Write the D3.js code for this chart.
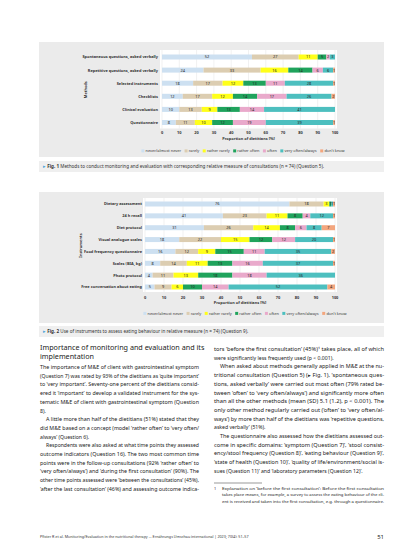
<!DOCTYPE html>
<html><head><meta charset="utf-8">
<script src="https://cdn.jsdelivr.net/npm/d3@7"></script>
<style>
body{margin:0;background:#fff}
svg{display:block}
text{font-family:"Noto Sans","Open Sans",sans-serif}
</style>
</head><body>
<svg id="page" width="413" height="551"></svg>
<script>
// ---------- DATA ----------
const levels = ["never/almost never","rarely","rather rarely","rather often","often","very often/always","don't know"];
const levelColors = ["#cde0f1","#dccdb1","#ffff1a","#1fa35c","#e9a9cb","#4dbfbf","#f3a67e"];
const ticks = [0,10,20,30,40,50,60,70,80,90,100];

const fig1Rows = ["Spontaneous questions, asked verbally","Repetitive questions, asked verbally","Selected instruments","Checklists","Clinical evaluation","Questionnaire"];
const fig1Values = [
  [52,27,11,5,2,3,0],
  [24,33,16,14,6,6,1],
  [18,17,12,13,11,28,1],
  [12,17,12,14,17,26,2],
  [10,13,9,13,14,41,0],
  [8,11,10,12,19,39,1]
];

const fig2Rows = ["Dietary assessment","24 h recall","Diet protocol","Visual analogue scales","Food frequency questionnaire","Scales (BIA, kg)","Photo protocol","Free conversation about eating"];
const fig2Values = [
  [76,18,3,1,0,1,1],
  [41,23,11,8,4,12,1],
  [31,26,14,8,6,8,7],
  [18,22,15,12,12,20,1],
  [16,12,9,15,11,35,2],
  [8,14,11,13,16,37,1],
  [4,11,13,18,18,36,0],
  [5,9,6,10,14,52,4]
];

// ---------- PAGE ----------
const svg = d3.select("#page");

function drawFigure(cfg){
  const g = svg.append("g");
  g.append("rect").attr("x",39).attr("y",cfg.panelTop).attr("width",345).attr("height",cfg.panelH).attr("fill","#ebebeb");
  const x = d3.scaleLinear().domain([0,100]).range(cfg.xRange);
  const y = d3.scalePoint().domain(cfg.rows).range(cfg.yRange);
  // plot area
  g.append("rect").attr("x",x(0)-2).attr("y",cfg.plotTop).attr("width",x(100)-x(0)+4).attr("height",cfg.plotBottom-cfg.plotTop).attr("fill","#fff");
  g.selectAll("line.grid").data(ticks).join("line").attr("class","grid")
    .attr("x1",d=>x(d)).attr("x2",d=>x(d)).attr("y1",cfg.plotTop).attr("y2",cfg.plotBottom)
    .attr("stroke","#dcdcdc").attr("stroke-width",0.4);
  const bh = 5;
  cfg.rows.forEach((r,i)=>{
    const vals = cfg.values[i];
    let cum = 0;
    const segs = vals.map((v,k)=>{const s={v,k,x0:cum,x1:cum+v}; cum+=v; return s;});
    const row = g.append("g");
    row.selectAll("rect").data(segs.filter(s=>s.v>0)).join("rect")
      .attr("x",s=>x(s.x0)).attr("width",s=>x(s.x1)-x(s.x0))
      .attr("y",y(r)-bh/2).attr("height",bh).attr("fill",s=>levelColors[s.k]);
    row.selectAll("text").data(segs.filter(s=>s.v>0)).join("text")
      .attr("x",s=>x((s.x0+s.x1)/2)).attr("y",y(r)+1.4)
      .attr("text-anchor","middle").attr("font-size",3.9).attr("fill","#222")
      .text(s=>s.v);
    g.append("text").attr("x",cfg.labelX).attr("y",y(r)+1.4).attr("text-anchor","end")
      .attr("font-size",3.9).attr("font-weight","bold").attr("fill","#333").text(r);
  });
  // tick labels
  g.selectAll("text.tick").data(ticks).join("text").attr("class","tick")
    .attr("x",d=>x(d)).attr("y",cfg.tickY).attr("text-anchor","middle")
    .attr("font-size",3.9).attr("font-weight","bold").attr("fill","#333").text(d=>d);
  g.append("text").attr("x",(x(0)+x(100))/2).attr("y",cfg.tickY+5.5).attr("text-anchor","middle")
    .attr("font-size",3.9).attr("font-weight","bold").attr("fill","#333").text("Proportion of dietitians [%]");
  g.append("text").attr("transform",`translate(${cfg.yTitleX},${(cfg.yRange[0]+cfg.yRange[1])/2}) rotate(-90)`)
    .attr("text-anchor","middle").attr("font-size",3.9).attr("font-weight","bold").attr("fill","#333").text(cfg.yTitle);
  // legend
  const lg = g.append("g");
  let lx = 0;
  levels.forEach((l,k)=>{
    const it = lg.append("g").attr("transform",`translate(${lx},0)`);
    it.append("rect").attr("x",0).attr("y",-2.6).attr("width",3).attr("height",3).attr("fill",levelColors[k]);
    const t = it.append("text").attr("x",4.2).attr("y",0.3).attr("font-size",3.9).attr("fill","#333").text(l);
    lx += 4.2 + t.node().getComputedTextLength() + 3.5;
  });
  const lw = lx - 3.5;
  lg.attr("transform",`translate(${cfg.legendCenter - lw/2},${cfg.legendY})`);
  // caption
  g.append("rect").attr("x",39).attr("y",cfg.capTop).attr("width",345).attr("height",11).attr("fill","#efefef");
  const cap = g.append("text").attr("x",43).attr("y",cfg.capTop+7.3).attr("font-size",4.6).attr("fill","#333");
  cap.append("tspan").attr("fill","#4aa3d8").text("\u25B8 ");
  cap.append("tspan").attr("font-weight","bold").text(cfg.capLabel+"  ");
  cap.append("tspan").text(cfg.capText);
}

drawFigure({
  panelTop:42, panelH:115, rows:fig1Rows, values:fig1Values,
  xRange:[162,335], yRange:[57,122.5], plotTop:50, plotBottom:128.5,
  labelX:158, tickY:134.3, yTitleX:86.5, yTitle:"Methods",
  legendY:152, legendCenter:243, capTop:161,
  capLabel:"Fig. 1", capText:"Methods to conduct monitoring and evaluation with corresponding relative measure of consultations (n = 74) (Question 5)."
});
drawFigure({
  panelTop:192, panelH:131, rows:fig2Rows, values:fig2Values,
  xRange:[145,335], yRange:[204,287], plotTop:198, plotBottom:292,
  labelX:142, tickY:298.6, yTitleX:81.5, yTitle:"Instruments",
  legendY:314.5, legendCenter:245, capTop:326,
  capLabel:"Fig. 2", capText:"Use of instruments to assess eating behaviour in relative measure (n = 74) (Question 9)."
});

// ---------- BODY TEXT ----------
function block(x, y0, width, lh, lines, size){
  lines.forEach((ln,i)=>{
    const t = svg.append("text").attr("x",x+(ln.indent?6:0)).attr("y",y0+i*lh)
      .attr("font-size",size).attr("fill","#222").text(ln.t);
    if(ln.j) t.attr("textLength",width-(ln.indent?6:0)).attr("lengthAdjust","spacingAndGlyphs");
  });
}
svg.append("text").attr("x",40).attr("y",350).attr("font-size",7.2).attr("fill","#222").text("Importance of monitoring and evaluation and its");
svg.append("text").attr("x",40).attr("y",359).attr("font-size",7.2).attr("fill","#222").text("implementation");

const L = (t,j=true,indent=false)=>({t,j,indent});
block(40,369,159,8.7,[
  L("The importance of M&E of client with gastrointestinal symptom"),
  L("(Question 7) was rated by 93% of the dietitians as \u2018quite important\u2019"),
  L("to \u2018very important\u2019. Seventy-one percent of the dietitians consid-"),
  L("ered it \u2018important\u2019 to develop a validated instrument for the sys-"),
  L("tematic M&E of client with gastrointestinal symptom (Question"),
  L("8).",false),
  L("A little more than half of the dietitians (51%) stated that they",true,true),
  L("did M&E based on a concept (model \u2018rather often\u2019 to \u2018very often/"),
  L("always\u2019 (Question 6).",false),
  L("Respondents were also asked at what time points they assessed",true,true),
  L("outcome indicators (Question 16). The two most common time"),
  L("points were in the follow-up consultations (92% \u2018rather often\u2019 to"),
  L("\u2018very often/always\u2019) and \u2018during the first consultation\u2019 (90%). The"),
  L("other time points assessed were \u2018between the consultations\u2019 (45%),"),
  L("\u2018after the last consultation\u2019 (46%) and assessing outcome indica-")
],5.15);

block(214,351,170,8.7,[
  L("tors \u2018before the first consultation\u2019 (45%)\u00B9 takes place, all of which"),
  L("were significantly less frequently used (p < 0.001).",false),
  L("When asked about methods generally applied in M&E at the nu-",true,true),
  L("tritional consultation (Question 5) (\u25B8 Fig. 1), \u2018spontaneous ques-"),
  L("tions, asked verbally\u2019 were carried out most often (79% rated be-"),
  L("tween \u2018often\u2019 to \u2018very often/always\u2019) and significantly more often"),
  L("than all the other methods (mean (SD) 5.1 (1.2), p < 0.001). The"),
  L("only other method regularly carried out (\u2018often\u2019 to \u2018very often/al-"),
  L("ways\u2019) by more than half of the dietitians was \u2018repetitive questions,"),
  L("asked verbally\u2019 (51%).",false),
  L("The questionnaire also assessed how the dietitians assessed out-",true,true),
  L("come in specific domains: \u2018symptom (Question 7)\u2019, \u2018stool consist-"),
  L("ency/stool frequency (Question 8)\u2019, \u2018eating behaviour (Question 9)\u2019,"),
  L("\u2018state of health (Question 10)\u2019, \u2018quality of life/environment/social is-"),
  L("sues (Question 11)\u2019 and \u2018laboratory parameters (Question 12)\u2019.",false)
],5.15);

svg.append("line").attr("x1",214).attr("x2",262).attr("y1",483).attr("y2",483).attr("stroke","#333").attr("stroke-width",0.5);
svg.append("text").attr("x",214).attr("y",490).attr("font-size",3.8).attr("fill","#222").text("1");
block(222,490,162,6.4,[
  L("Explanation on \u2018before the first consultation\u2019: Before the first consultation"),
  L("takes place means, for example, a survey to assess the eating behaviour of the cli-"),
  L("ent is received and taken into the first consultation, e.g. through a questionnaire.")
],3.9);

svg.append("text").attr("x",40).attr("y",538).attr("font-size",3.7).attr("fill","#333")
  .text("Pfister R et al. Monitoring/Evaluation in the nutritional therapy \u2026   Ernährungs Umschau international | 2023; 70(4): 51\u201357");
svg.append("text").attr("x",384).attr("y",539).attr("text-anchor","end").attr("font-size",6).attr("fill","#222").text("51");
</script>
</body></html>
